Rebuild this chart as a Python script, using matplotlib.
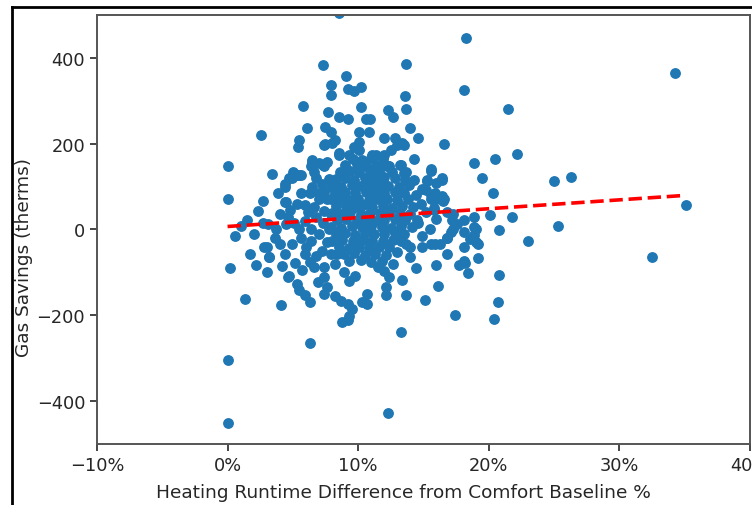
import numpy as np
import matplotlib
matplotlib.use("Agg")
import matplotlib.pyplot as plt
from matplotlib.ticker import PercentFormatter
from matplotlib.lines import Line2D

# ============================================================
# Data (x = runtime difference in %, y = therms)
# ============================================================

# sparse / outlying points
outer_x = [8.5, 7.3, 9.1, 7.9, 7.9, 9.2, 9.7, 10.2, 5.8, 7.7, 8.5, 9.2, 10.2, 10.6, 10.9,
           6.1, 7.5, 7.9, 10.1, 10.8, 2.6, 5.5, 5.4, 7.5, 8.0, 8.5, 9.7, 10.1, 11.1, 0.0,
           3.4, 6.5, 6.4, 6.6, 7.3, 7.6, 5.0, 5.5, 4.7, 4.4, 0.0, 2.7, 2.3, 4.5, 5.6,
           6.3, 7.0, 1.5, 2.7, 3.7, 0.6, 0.2, 1.3, 4.1, 0.0, 0.0, 6.3, 2.2, 1.7, 3.2,
           4.7, 5.3, 5.5, 5.9, 6.3, 8.8, 9.2, 32.5, 12.3, 13.3, 17.4, 20.4, 20.7, 20.8, 15.1,
           16.1, 13.7, 12.1, 12.1, 13.4, 14.4, 16.0, 17.7, 18.2, 18.4, 19.2, 16.8, 18.3, 34.3, 13.7,
           18.1, 13.6, 13.7, 12.3, 12.7, 21.5, 14.0, 14.6, 16.6, 12.0, 12.8, 13.4, 12.5, 22.2, 18.9,
           20.5, 19.5, 20.3, 25.0, 26.3, 35.1, 25.3, 23.0, 21.8, 20.1, 20.8, 15.6, 16.4, 15.3, 15.9,
           16.5, 14.3, 11.4, 11.8, 12.3, 18.9, 19.0, 17.2, 16.8, 17.3, 18.1, 19.0, 15.9, 16.3, 14.0]
outer_y = [505, 383, 358, 337, 314, 328, 323, 333, 288, 274, 263, 258, 286, 258, 258,
           237, 240, 228, 228, 228, 221, 209, 193, 200, 202, 179, 193, 186, 174, 149,
           130, 158, 147, 135, 151, 158, 133, 128, 121, 105, 72, 67, 42, 63, 86,
           86, 86, 23, 16, 2, -16, -91, -163, -177, -305, -451, -265, -84, -58, -65,
           -109, -128, -142, -153, -170, -216, -212, -65, -428, -240, -200, -209, -170, -107, -165,
           -133, -154, -154, -135, -119, -91, -84, -84, -79, -102, -67, -58, 447, 365, 386,
           326, 312, 281, 279, 263, 281, 237, 214, 200, 214, 214, 202, 186, 177, 156,
           165, 121, 86, 114, 123, 56, 7, -26, 30, 33, -2, 137, 119, 112, 86,
           67, 165, 174, 147, 147, 30, 0, 23, -19, 0, -7, -30, -35, -35, -42]

# medium-density points around the main cluster
mid_x = [2.8, 3.2, 4.0, 4.4, 4.2, 4.9, 4.6, 5.9, 6.3, 6.6, 5.6, 6.4, 6.9, 7.4, 7.6,
         7.4, 8.2, 8.7, 9.2, 9.5, 9.3, 8.9, 9.3, 9.8, 10.3, 7.4, 8.2, 7.9, 8.4, 10.7,
         10.7, 18.1, 19.2, 18.1, 18.6, 13.7, 14.9, 15.6, 16.8, 14.0, 12.7, 13.0, 12.0, 12.4, 11.5,
         15.6, 15.3, 16.0, 16.4, 15.6, 16.0, 16.6, 13.0, 13.5, 12.0, 11.5, 12.2, 12.0, 13.3, 13.7,
         14.3, 15.2, 15.6, 16.4, 15.8, 17.3, 18.1, 17.6, 18.9, 17.1, 18.9, 6.5, 7.0, 7.4, 8.2,
         7.4, 8.5, 9.3, 10.1, 4.4, 4.9, 5.3, 5.6, 7.4, 4.4, 4.0, 4.6, 3.1, 4.5, 5.1,
         5.9, 5.9, 6.6, 7.4, 7.9, 6.8, 7.2, 7.8, 6.5, 7.0, 7.6, 8.0, 6.2, 6.8, 7.3,
         7.8, 6.4, 7.0, 5.5, 6.0, 7.6, 7.2, 6.8, 5.2, 5.7, 3.6, 2.0, 1.0, 3.0, 4.8,
         5.3, 3.9, 3.0, 14.8, 15.2, 14.6, 15.5, 14.9, 16.0, 15.8, 14.4, 14.9, 16.8]
mid_y = [-42, -65, -35, -58, -86, -35, -112, -58, -77, -88, -19, -28, -123, -112, -135,
         -151, -156, -167, -174, -186, -202, -100, -121, -109, -170, -88, -81, -58, -58, -151,
         -174, -74, -35, -42, -23, -35, -42, -33, -19, -65, -81, -53, -98, -112, -88,
         140, 116, 109, 116, 81, 72, 70, 198, 198, 174, 147, 147, 123, 151, 135,
         116, 93, 70, 77, 51, 35, 23, 12, 5, -5, -12, 163, 156, 147, 209,
         198, 174, 174, 205, 100, 121, 128, 128, 88, 65, 35, 28, 12, 12, 16,
         19, 58, 53, 42, 35, 120, 105, 118, 100, 70, 72, 100, 40, 30, 15,
         2, 0, -10, 0, -40, -30, -50, -62, -78, -95, -20, -10, 8, -100, 45,
         60, 85, -40, 60, 40, 15, 0, -15, 25, 45, 80, 95, 40]

# dense core of the cloud
core_x = [9.6, 10.3, 11.0, 11.9,
          9.0, 9.9, 10.6, 11.4, 12.4, 13.2,
          8.6, 9.4, 10.1, 10.9, 11.6, 12.6, 13.5,
          8.3, 9.0, 9.7, 10.5, 11.2, 11.9, 12.8, 13.6,
          8.0, 8.7, 9.5, 10.2, 10.9, 11.6, 12.3, 13.1, 13.9,
          8.2, 9.0, 9.8, 10.6, 11.3, 12.0, 12.8, 13.5,
          7.9, 8.6, 9.3, 10.0, 10.8, 11.5, 12.2, 13.0, 13.8,
          8.3, 9.1, 9.8, 10.4, 11.1, 11.9, 12.6, 13.4, 14.2,
          8.0, 8.7, 9.4, 10.2, 10.9, 11.7, 12.4, 13.2, 14.0,
          8.4, 9.1, 9.9, 10.6, 11.3, 12.0, 12.8, 13.6, 14.5,
          7.9, 8.7, 9.5, 10.3, 11.0, 11.8, 12.5, 13.3, 14.1,
          8.3, 9.0, 9.8, 10.5, 11.2, 12.0, 12.8, 13.5,
          8.0, 8.8, 9.6, 10.4, 11.1, 11.9, 12.7, 13.3,
          8.5, 9.3, 10.1, 10.8, 11.6, 12.4,
          8.9, 9.7, 10.5, 11.3, 12.1,
          9.3, 10.2, 11.0, 11.8]
core_y = [165, 163, 167, 164,
          150, 152, 148, 151, 149, 150,
          135, 137, 133, 136, 134, 135, 132,
          118, 120, 116, 119, 117, 118, 120, 116,
          102, 100, 104, 101, 103, 100, 102, 99, 103,
          86, 88, 85, 87, 84, 86, 88, 85,
          70, 72, 68, 71, 69, 70, 72, 68, 71,
          54, 55, 52, 56, 53, 54, 51, 55, 53,
          38, 36, 40, 37, 39, 38, 36, 39, 37,
          22, 24, 21, 23, 20, 22, 24, 21, 23,
          6, 4, 8, 5, 7, 6, 4, 7, 5,
          -10, -8, -12, -9, -11, -10, -8, -11,
          -26, -24, -28, -25, -27, -26, -24, -27,
          -42, -44, -40, -43, -41, -42,
          -58, -56, -60, -57, -59,
          -74, -72, -76, -73]

# fitted trend line (therms = slope * pct + intercept)
trend_slope = 2.07
trend_intercept = 7.0

x_pct = np.array(outer_x + mid_x + core_x)
y_therms = np.array(outer_y + mid_y + core_y)

# ============================================================
# Plot
# ============================================================

plt.rcParams["font.family"] = "DejaVu Sans"
text_color = "#262626"

fig = plt.figure(figsize=(7.52, 5.06), dpi=100)
ax = fig.add_axes([0.129, 0.121, 0.868, 0.847])

ax.scatter(x_pct / 100, y_therms, s=46, color="#1f77b4", zorder=2, clip_on=True)

trend_x = np.array([x_pct.min(), x_pct.max()])
ax.plot(trend_x / 100, trend_slope * trend_x + trend_intercept, "r--", linewidth=2.6, zorder=3)

ax.set_xlim(-0.1, 0.4)
ax.set_ylim(-500, 500)
ax.set_xticks([-0.1, 0.0, 0.1, 0.2, 0.3, 0.4])
ax.set_yticks([-400, -200, 0, 200, 400])
ax.xaxis.set_major_formatter(PercentFormatter(1.0, decimals=0))
ax.tick_params(labelsize=12.8, colors=text_color, length=5, width=1.2)
for spine in ax.spines.values():
    spine.set_color("#555555")
    spine.set_linewidth(1.4)

# labels sit slightly off-centre in the reference
ax.set_xlabel("Heating Runtime Difference from Comfort Baseline %", fontsize=13.3,
              color=text_color)
ax.xaxis.set_label_coords(0.469, -0.091)
ax.set_ylabel("Gas Savings (therms)", fontsize=13.3, color=text_color)
ax.yaxis.set_label_coords(-0.098, 0.438)

# screenshot frame around the figure
fig.add_artist(Line2D([12 / 752, 12 / 752], [0, 1 - 8 / 506], color="black", linewidth=2,
                      transform=fig.transFigure))
fig.add_artist(Line2D([12 / 752, 1], [1 - 8 / 506, 1 - 8 / 506], color="black", linewidth=2,
                      transform=fig.transFigure))

fig.savefig("out.png", dpi=100)
